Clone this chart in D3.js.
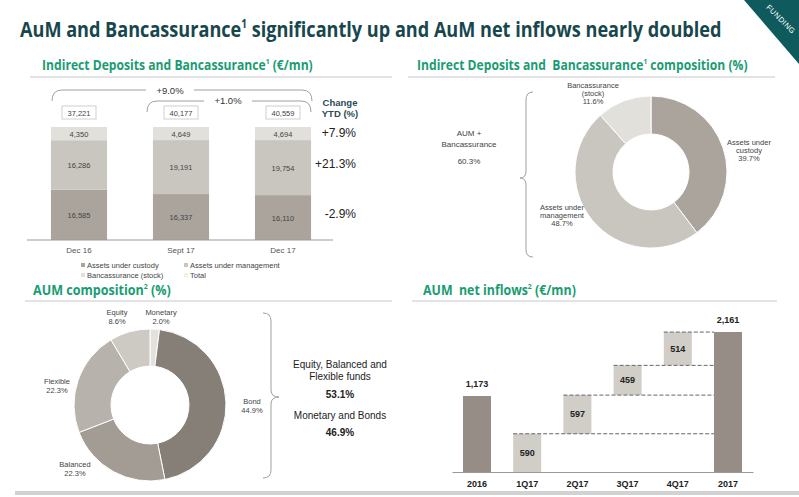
<!DOCTYPE html>
<html>
    <head>
        <meta charset="utf-8">
        <style>
         body {
             margin: 0;
             background-color: #ffffff;
         }
         text {
             font-family: "Liberation Sans", Arial, sans-serif;
         }
         .title, .subtitle {
             font-family: "Open Sans", "Noto Sans", sans-serif;
             font-weight: 700;
         }
         .title {
             fill: #17474d;
             font-size: 21px;
         }
         .subtitle {
             fill: #1a9c72;
             font-size: 14px;
         }
         .rule {
             stroke: #c8c8c8;
             stroke-width: 1;
         }
         .brace {
             fill: none;
             stroke: #a0a0a0;
             stroke-width: 1;
         }
         .small {
             font-size: 7.5px;
             fill: #444;
         }
        </style>
        <script src="https://cdn.jsdelivr.net/npm/d3@7"></script>
    </head>
    <body>
        <svg id="chart" width="799" height="497"></svg>
        <script>
         // Indirect deposits and bancassurance (€/mn)
         var periods = ["Dec 16", "Sept 17", "Dec 17"];
         var custody = [16585, 16337, 16110];
         var managed = [16286, 19191, 19754];
         var bancassurance = [4350, 4649, 4694];
         var totals = [37221, 40177, 40559];
         var ytdChange = ["+7.9%", "+21.3%", "-2.9%"]; // bancassurance, AuM, custody
         var growthLabels = ["+9.0%", "+1.0%"];

         // composition (%)
         var compLabels = [["Assets under", "custody"], ["Assets under", "management"], ["Bancassurance", "(stock)"]];
         var compValues = [39.7, 48.7, 11.6];
         var compGroup = ["AUM +", "Bancassurance", "60.3%"];

         // AUM composition (%)
         var aumLabels = ["Monetary", "Bond", "Balanced", "Flexible", "Equity"];
         var aumValues = [2.0, 44.9, 22.3, 22.3, 8.6];
         var aumGroups = [["Equity, Balanced and", "Flexible funds"], ["Monetary and Bonds"]];
         var aumGroupValues = ["53.1%", "46.9%"];

         // AUM net inflows (€/mn)
         var flowCats = ["2016", "1Q17", "2Q17", "3Q17", "4Q17", "2017"];
         var flowValues = [1173, 590, 597, 459, 514, 2161];
         var flowIsTotal = [true, false, false, false, false, true];

         var fmt = d3.format(",");
         var svg = d3.select("#chart");

         // text with a small superscript note, squeezed to the given width
         function heading(cls, before, note, after, x, y, w) {
             var t = svg.append("text").attr("class", cls).style("white-space", "pre");
             t.append("tspan").text(before);
             t.append("tspan").attr("font-size", "0.55em").attr("dy", "-0.75em").text(note);
             t.append("tspan").attr("dy", "0.41em").text(after);
             var bw = t.node().getComputedTextLength();
             t.attr("transform", "translate(" + x + "," + y + ") scale(" + (w / bw) + ",1)");
             return t;
         }

         // header
         heading("title", "AuM and Bancassurance", "1", " significantly up and AuM net inflows nearly doubled", 20, 37, 702);

         svg.append("polygon")
            .attr("points", "744,0 799,0 799,64")
            .attr("fill", "#0e5a5c");
         svg.append("text")
            .attr("transform", "translate(779,21) rotate(45)")
            .attr("text-anchor", "middle")
            .attr("font-size", 7.5)
            .attr("fill", "#ffffff")
            .attr("letter-spacing", 0.5)
            .text("FUNDING");

         heading("subtitle", "Indirect Deposits and Bancassurance", "1", " (€/mn)", 42, 70, 271);
         heading("subtitle", "Indirect Deposits and  Bancassurance", "1", " composition (%)", 417, 70, 331);
         heading("subtitle", "AUM composition", "2", " (%)", 33, 295, 138);
         heading("subtitle", "AUM  net inflows", "2", " (€/mn)", 423, 295, 153);

         [[30, 392, 77], [408, 775, 77], [25, 392, 301], [412, 777, 301]].forEach(function(r) {
             svg.append("line").attr("class", "rule")
                .attr("x1", r[0]).attr("x2", r[1]).attr("y1", r[2]).attr("y2", r[2]);
         });

         svg.append("rect")
            .attr("x", 15).attr("y", 491)
            .attr("width", 784).attr("height", 4)
            .attr("fill", "#d2d2d2");

         // ---------- top-left: 100% stacked bars ----------
         var barColors = {custody: "#aaa49d", managed: "#c9c6bf", banc: "#e2e0db"};
         var x = d3.scaleBand().domain(periods).range([28, 334])
                   .paddingInner(0.45).paddingOuter(0.225);
         var y = d3.scaleLinear().domain([0, 1]).range([240, 127]);

         var rows = periods.map(function(p, i) {
             return {period: p, custody: custody[i] / totals[i],
                     managed: managed[i] / totals[i], banc: bancassurance[i] / totals[i],
                     raw: {custody: custody[i], managed: managed[i], banc: bancassurance[i]}};
         });
         var stack = d3.stack().keys(["custody", "managed", "banc"])(rows);

         var g1 = svg.append("g");
         stack.forEach(function(layer) {
             g1.selectAll(".seg-" + layer.key)
               .data(layer)
               .enter().append("rect")
               .attr("x", function(d) { return x(d.data.period); })
               .attr("y", function(d) { return y(d[1]); })
               .attr("width", x.bandwidth())
               .attr("height", function(d) { return y(d[0]) - y(d[1]); })
               .attr("fill", barColors[layer.key]);
             g1.selectAll(".lab-" + layer.key)
               .data(layer)
               .enter().append("text")
               .attr("class", "small")
               .attr("text-anchor", "middle")
               .attr("x", function(d) { return x(d.data.period) + x.bandwidth() / 2; })
               .attr("y", function(d) { return (y(d[0]) + y(d[1])) / 2 + 3; })
               .text(function(d) { return fmt(d.data.raw[layer.key]); });
         });

         g1.append("g")
           .attr("transform", "translate(0,240)")
           .call(d3.axisBottom(x).tickSize(0).tickPadding(7))
           .call(function(a) {
               a.select(".domain").attr("d", "M27,0H333").attr("stroke", "#999");
               a.selectAll("text").attr("font-size", 8).attr("fill", "#555")
                .attr("font-weight", 400)
                .attr("font-family", "Liberation Sans, Arial, sans-serif");
           });

         // total boxes
         periods.forEach(function(p, i) {
             var cx = x(p) + x.bandwidth() / 2;
             g1.append("rect")
               .attr("x", cx - 17).attr("y", 106)
               .attr("width", 34).attr("height", 13)
               .attr("fill", "#fff").attr("stroke", "#d0d0d0");
             g1.append("text")
               .attr("class", "small")
               .attr("text-anchor", "middle")
               .attr("x", cx).attr("y", 115.5)
               .text(fmt(totals[i]));
         });

         // growth brackets
         g1.append("path").attr("class", "brace")
           .attr("d", "M52,101 Q52,90 62,90 L146,90 M194,90 L302,90 Q312,90 312,101");
         g1.append("text").attr("x", 170).attr("y", 94)
           .attr("text-anchor", "middle").attr("font-size", 9.5).attr("fill", "#333")
           .text(growthLabels[0]);
         g1.append("path").attr("class", "brace")
           .attr("d", "M147,112 Q147,101 157,101 L204,101 M252,101 L301,101 Q311,101 311,112");
         g1.append("text").attr("x", 228).attr("y", 104)
           .attr("text-anchor", "middle").attr("font-size", 9.5).attr("fill", "#333")
           .text(growthLabels[1]);

         g1.append("text").attr("x", 340).attr("y", 106)
           .attr("text-anchor", "middle").attr("font-size", 9.5).attr("font-weight", 700)
           .attr("fill", "#2a4c57").text("Change");
         g1.append("text").attr("x", 340).attr("y", 117)
           .attr("text-anchor", "middle").attr("font-size", 9.5).attr("font-weight", 700)
           .attr("fill", "#2a4c57").text("YTD (%)");

         var firstBar = [stack[2][0], stack[1][0], stack[0][0]];
         ytdChange.forEach(function(v, i) {
             var d = firstBar[i];
             g1.append("text")
               .attr("x", 356).attr("y", (y(d[0]) + y(d[1])) / 2 + 3)
               .attr("text-anchor", "end").attr("font-size", 12).attr("fill", "#222")
               .text(v);
         });

         var legend = [
             {t: "Assets under custody", c: barColors.custody, x: 83, y: 265},
             {t: "Assets under management", c: barColors.managed, x: 186, y: 265},
             {t: "Bancassurance (stock)", c: barColors.banc, x: 83, y: 275},
             {t: "Total", c: "#f0f0f0", x: 186, y: 275}
         ];
         legend.forEach(function(l) {
             g1.append("rect").attr("x", l.x - 2).attr("y", l.y - 2)
               .attr("width", 4).attr("height", 4).attr("fill", l.c);
             g1.append("text").attr("class", "small").attr("x", l.x + 4).attr("y", l.y + 3)
               .text(l.t);
         });

         // ---------- top-right: composition donut ----------
         var compColors = ["#aaa49d", "#c9c6bf", "#e2e0db"];
         var pie = d3.pie().sort(null).value(function(d) { return d; });
         var arc1 = d3.arc().innerRadius(38).outerRadius(76);
         var g2 = svg.append("g").attr("transform", "translate(651,172)");
         g2.selectAll("path")
           .data(pie(compValues))
           .enter().append("path")
           .attr("d", arc1)
           .attr("fill", function(d, i) { return compColors[i]; })
           .attr("stroke", "#fff").attr("stroke-width", 1);

         var compPos = [[98, -27], [-89, 38], [-58, -84]];
         compValues.forEach(function(v, i) {
             var t = g2.append("text").attr("class", "small").attr("text-anchor", "middle")
                       .attr("transform", "translate(" + compPos[i][0] + "," + compPos[i][1] + ")");
             t.append("tspan").attr("x", 0).attr("dy", 0).text(compLabels[i][0]);
             t.append("tspan").attr("x", 0).attr("dy", 8).text(compLabels[i][1]);
             t.append("tspan").attr("x", 0).attr("dy", 8).text(d3.format(".1f")(v) + "%");
         });

         svg.append("path").attr("class", "brace")
            .attr("d", "M533,92 Q526,92 526,100 L526,171 Q526,178 520,178 Q526,178 526,185 L526,250 Q526,257 533,257");
         var t2 = svg.append("text").attr("font-size", 8).attr("fill", "#444").attr("text-anchor", "middle");
         t2.append("tspan").attr("x", 469).attr("y", 136).text(compGroup[0]);
         t2.append("tspan").attr("x", 469).attr("y", 147).text(compGroup[1]);
         t2.append("tspan").attr("x", 469).attr("y", 164).text(compGroup[2]);

         // ---------- bottom-left: AUM composition donut ----------
         var aumColors = ["#e3e1dc", "#867f77", "#a39c95", "#b7b2ab", "#cdcac3"];
         var arc2 = d3.arc().innerRadius(39).outerRadius(76);
         var g3 = svg.append("g").attr("transform", "translate(150,405)");
         g3.selectAll("path")
           .data(pie(aumValues))
           .enter().append("path")
           .attr("d", arc2)
           .attr("fill", function(d, i) { return aumColors[i]; })
           .attr("stroke", "#fff").attr("stroke-width", 1);

         var aumPos = [[11, -90], [102, -1], [-75, 62], [-93, -21], [-33, -90]];
         aumValues.forEach(function(v, i) {
             var t = g3.append("text").attr("class", "small").attr("font-size", 8).attr("text-anchor", "middle")
                       .attr("transform", "translate(" + aumPos[i][0] + "," + aumPos[i][1] + ")");
             t.append("tspan").attr("x", 0).attr("dy", 0).text(aumLabels[i]);
             t.append("tspan").attr("x", 0).attr("dy", 9).text(d3.format(".1f")(v) + "%");
         });

         svg.append("path").attr("class", "brace")
            .attr("d", "M263,313 Q271,313 271,321 L271,390 Q271,397 279,397 Q271,397 271,404 L271,470 Q271,478 263,478");
         var t3 = svg.append("text").attr("font-size", 10).attr("fill", "#222").attr("text-anchor", "middle")
                     .style("font-family", "'Liberation Sans Narrow', 'Liberation Sans', Arial, sans-serif");
         t3.append("tspan").attr("x", 340).attr("y", 368).text(aumGroups[0][0]);
         t3.append("tspan").attr("x", 340).attr("y", 380).text(aumGroups[0][1]);
         t3.append("tspan").attr("x", 340).attr("y", 398).attr("font-weight", 700).text(aumGroupValues[0]);
         t3.append("tspan").attr("x", 340).attr("y", 419).text(aumGroups[1][0]);
         t3.append("tspan").attr("x", 340).attr("y", 436).attr("font-weight", 700).text(aumGroupValues[1]);

         // ---------- bottom-right: waterfall ----------
         var wx = d3.scaleBand().domain(flowCats).range([452, 753])
                    .paddingInner(0.442).paddingOuter(0.219);
         var wy = d3.scaleLinear().domain([0, 2161]).range([472, 332]);

         var run = 0;
         var steps = flowCats.map(function(c, i) {
             var s;
             if (flowIsTotal[i]) {
                 s = {cat: c, y0: 0, y1: flowValues[i], total: true, v: flowValues[i]};
             } else {
                 s = {cat: c, y0: run, y1: run + flowValues[i], total: false, v: flowValues[i]};
                 run += flowValues[i];
             }
             return s;
         });

         var g4 = svg.append("g");
         g4.selectAll("rect")
           .data(steps)
           .enter().append("rect")
           .attr("x", function(d) { return wx(d.cat); })
           .attr("y", function(d) { return wy(d.y1); })
           .attr("width", wx.bandwidth())
           .attr("height", function(d) { return wy(d.y0) - wy(d.y1); })
           .attr("fill", function(d) { return d.total ? "#968e86" : "#d1cec8"; });

         var lastX = wx(flowCats[flowCats.length - 1]);
         g4.selectAll(".conn")
           .data(steps.filter(function(d) { return !d.total; }))
           .enter().append("line")
           .attr("x1", function(d) { return wx(d.cat); })
           .attr("x2", lastX)
           .attr("y1", function(d) { return wy(d.y1); })
           .attr("y2", function(d) { return wy(d.y1); })
           .attr("stroke", "#666").attr("stroke-width", 1)
           .attr("stroke-dasharray", "4,2");

         g4.selectAll(".val")
           .data(steps)
           .enter().append("text")
           .attr("text-anchor", "middle")
           .attr("font-size", 9).attr("font-weight", 700).attr("fill", "#222")
           .attr("x", function(d) { return wx(d.cat) + wx.bandwidth() / 2; })
           .attr("y", function(d) {
               return d.total ? wy(d.y1) - 9 : (wy(d.y0) + wy(d.y1)) / 2 + 3;
           })
           .text(function(d) { return fmt(d.v); });

         g4.append("g")
           .attr("transform", "translate(0,472)")
           .call(d3.axisBottom(wx).tickSize(0).tickPadding(9))
           .call(function(a) {
               a.select(".domain").attr("stroke", "#999");
               a.selectAll("text").attr("font-size", 9).attr("font-weight", 700).attr("fill", "#222")
                .attr("font-family", "Liberation Sans, Arial, sans-serif");
           });
        </script>
    </body>
</html>
